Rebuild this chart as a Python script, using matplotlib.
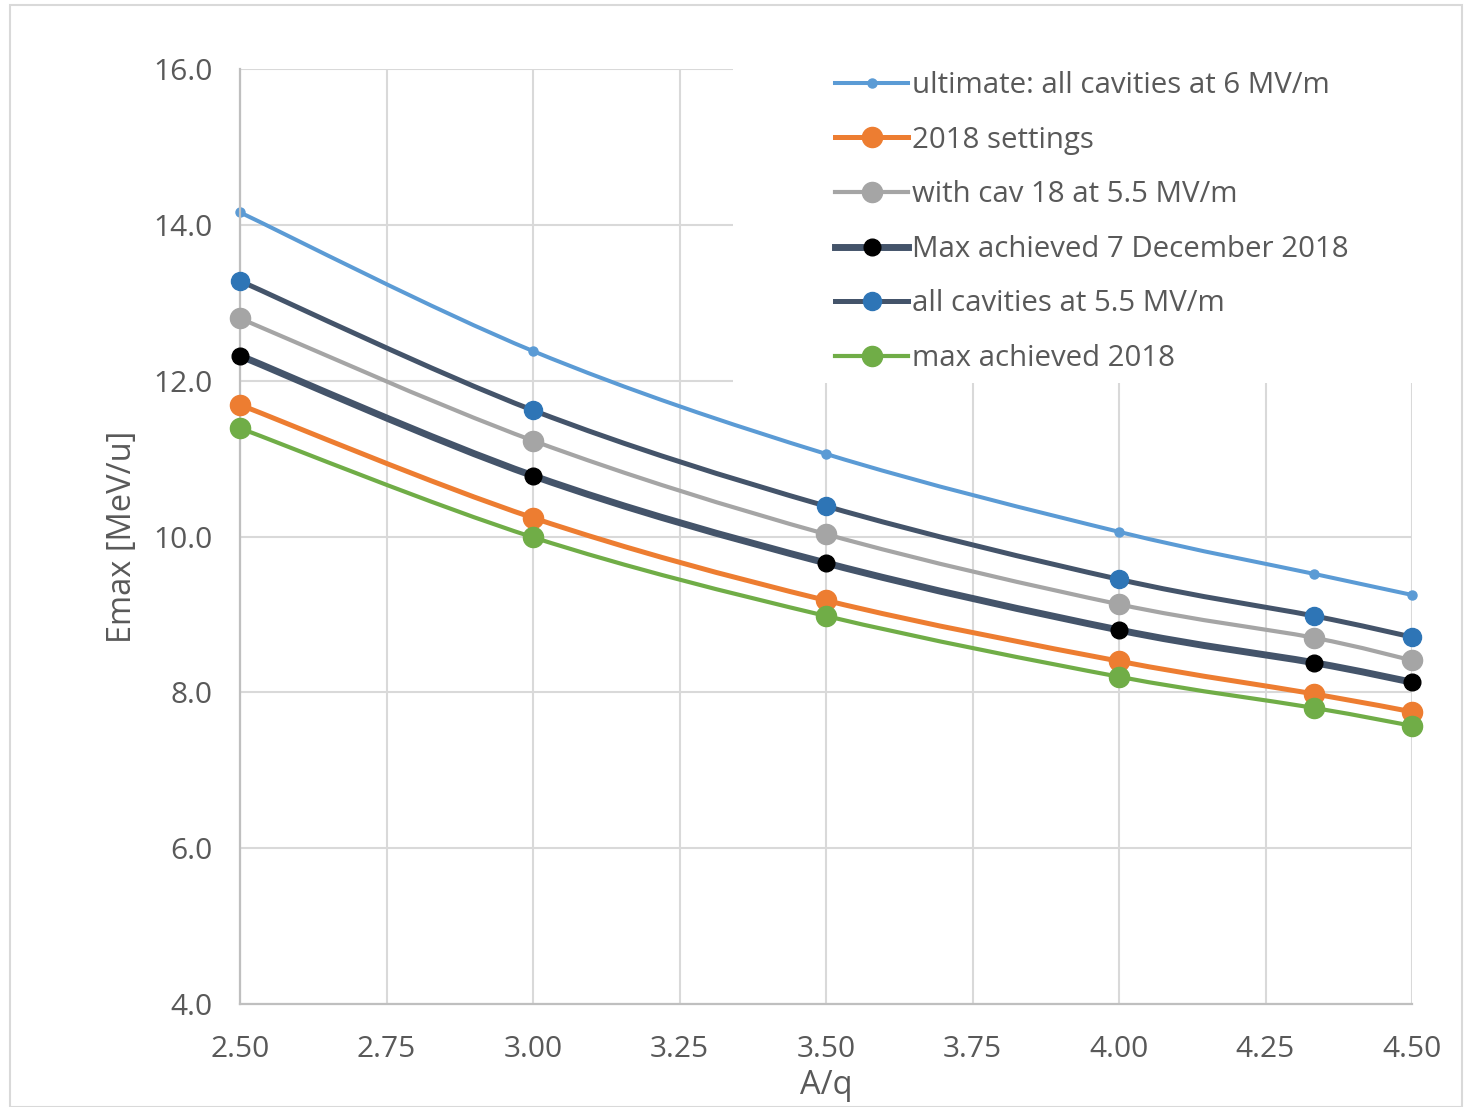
import matplotlib
matplotlib.use("Agg")
import matplotlib.pyplot as plt
from matplotlib.path import Path
from matplotlib.patches import PathPatch, Rectangle
from matplotlib.lines import Line2D
import numpy as np

plt.rcParams['font.family'] = ['Open Sans', 'DejaVu Sans']

# ---------------- data ----------------
aq = [2.5, 3.0, 3.5, 4.0, 4.333, 4.5]
labels = ["ultimate: all cavities at 6 MV/m", "2018 settings", "with cav 18 at 5.5 MV/m",
          "Max achieved 7 December 2018", "all cavities at 5.5 MV/m", "max achieved 2018"]
ultimate = [14.16, 12.38, 11.06, 10.06, 9.52, 9.25]
settings_2018 = [11.69, 10.24, 9.18, 8.40, 7.98, 7.75]
cav18 = [12.80, 11.23, 10.03, 9.13, 8.70, 8.41]
max_dec = [12.32, 10.78, 9.66, 8.80, 8.38, 8.13]
all_55 = [13.28, 11.62, 10.39, 9.45, 8.98, 8.71]
max_2018 = [11.39, 9.99, 8.98, 8.20, 7.80, 7.57]
series = [ultimate, settings_2018, cav18, max_dec, all_55, max_2018]

xticks = [2.50, 2.75, 3.00, 3.25, 3.50, 3.75, 4.00, 4.25, 4.50]
yticks = [4.0, 6.0, 8.0, 10.0, 12.0, 14.0, 16.0]

# styles
line_colors = ['#5B9BD5', '#ED7D31', '#A5A5A5', '#44546A', '#44546A', '#70AD47']
marker_colors = ['#5B9BD5', '#ED7D31', '#A5A5A5', '#000000', '#2E75B6', '#70AD47']
line_widths = [2.9, 3.6, 3.0, 5.0, 3.6, 3.0]
marker_sizes = [6.5, 14.5, 14.5, 12.0, 13.0, 14.5]

W, H = 1470, 1107
fig = plt.figure(figsize=(W / 100, H / 100), dpi=100)
ax = fig.add_axes([240 / W, 1 - 1004 / H, (1412 - 240) / W, (1004 - 69) / H])

# outer border of chart area
fig.patches.append(Rectangle((10 / W, 0), (1462 - 10) / W, 1 - 5 / H, transform=fig.transFigure,
                             fill=False, edgecolor='#D9D9D9', linewidth=1.5))

ax.set_xlim(2.5, 4.5)
ax.set_ylim(4.0, 16.0)
ax.set_xticks(xticks)
ax.set_yticks(yticks)
ax.set_xticklabels([f"{v:.2f}" for v in xticks])
ax.set_yticklabels([f"{v:.1f}" for v in yticks])
ax.tick_params(length=0, labelsize=21.5, colors='#595959')
ax.tick_params(axis='y', pad=20)
ax.tick_params(axis='x', pad=22)
ax.set_axisbelow(True)
ax.grid(True, color='#D9D9D9', linewidth=1.5)
for s in ['top', 'right']:
    ax.spines[s].set_visible(False)
for s in ['left', 'bottom']:
    ax.spines[s].set_color('#BFBFBF')
    ax.spines[s].set_linewidth(1.6)

# white legend area covering the grid
ax.add_patch(Rectangle((0.4206, 0.664), 0.62, 0.36, transform=ax.transAxes, facecolor='white',
                       edgecolor='none', zorder=1, clip_on=False))


def smooth_path(x, y):
    pts = np.column_stack([x, y])
    n = len(pts)
    verts = [pts[0]]
    codes = [Path.MOVETO]
    for i in range(n - 1):
        p0 = pts[i - 1] if i > 0 else pts[i]
        p1 = pts[i]
        p2 = pts[i + 1]
        p3 = pts[i + 2] if i + 2 < n else pts[i + 1]
        c1 = p1 + (p2 - p0) / 6.0
        c2 = p2 - (p3 - p1) / 6.0
        verts += [c1, c2, p2]
        codes += [Path.CURVE4] * 3
    return Path(verts, codes)


handles = []
for k, ys in enumerate(series):
    z = 2 + k
    patch = PathPatch(smooth_path(aq, ys), facecolor='none', edgecolor=line_colors[k],
                      linewidth=line_widths[k], capstyle='round', joinstyle='round', zorder=z)
    ax.add_patch(patch)
    ax.plot(aq, ys, linestyle='none', marker='o', markersize=marker_sizes[k],
            markerfacecolor=marker_colors[k], markeredgecolor=marker_colors[k], zorder=z + 0.5,
            clip_on=False)
    handles.append(Line2D([], [], color=line_colors[k], linewidth=line_widths[k], marker='o',
                          markersize=marker_sizes[k], markerfacecolor=marker_colors[k],
                          markeredgecolor=marker_colors[k]))

leg = ax.legend(handles, labels, loc='upper left', bbox_to_anchor=(835 / W, 1 - 71 / H),
                bbox_transform=fig.transFigure, frameon=False, fontsize=21.2,
                handlelength=2.48, handletextpad=0.14, labelspacing=0.87, borderpad=0,
                borderaxespad=0)
for t in leg.get_texts():
    t.set_color('#595959')
leg.set_zorder(20)

fig.text(122 / W, 1 - 537 / H, "Emax [MeV/u]", rotation=90, ha='center', va='center',
         fontsize=23.5, color='#595959')
fig.text(826 / W, 1 - 1086 / H, "A/q", ha='center', va='center', fontsize=23.5, color='#595959')

fig.savefig("out.png", dpi=100)
